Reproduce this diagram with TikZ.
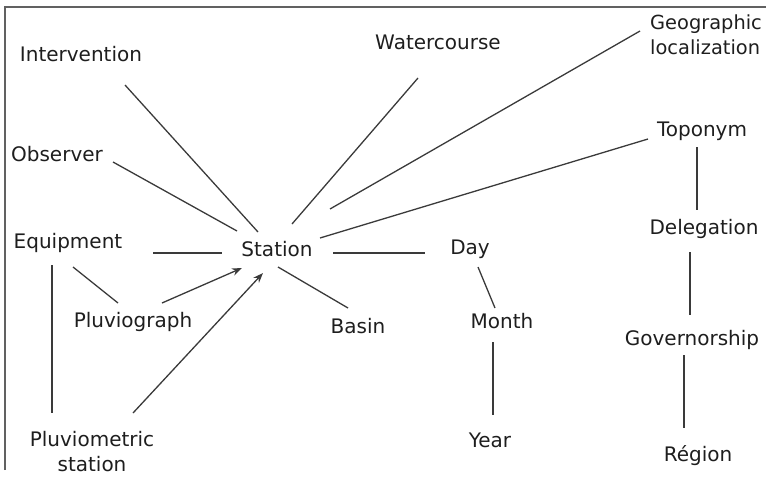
\documentclass[tikz,border=0pt]{standalone}
\usepackage{fontspec}
\setmainfont{DejaVu Sans}
\usetikzlibrary{arrows.meta}
\definecolor{txt}{HTML}{1E1E1E}
\definecolor{ln}{HTML}{3A3A3A}
\tikzset{
  lbl/.style={inner sep=0pt, anchor=center, text=txt, font=\fontsize{20}{25}\selectfont},
  conn/.style={draw=ln, line width=1.3pt},
  arr/.style={conn, -{Stealth[length=10pt,width=7.5pt]}},
  frameline/.style={draw=ln!80, line width=1.4pt}
}
\newcommand{\cn}[5][conn]{\draw[#1] ([shift={#3}]#2.center) -- ([shift={#5}]#4.center);}
\begin{document}
\begin{tikzpicture}[x=1pt,y=-1pt]
\useasboundingbox (0,0) rectangle (766,477);
\coordinate (fa) at (5,470);
\coordinate (fb) at (5,7);
\coordinate (fc) at (766,7);
\draw[frameline] (fa) -- (fb) -- (fc);

\node[lbl] (interv) at (81,54) {Intervention};
\node[lbl] (water) at (438,42) {Watercourse};
\node[lbl, anchor=west, align=left, font=\fontsize{19.4}{25}\selectfont] (geo) at (650,35) {Geographic\\localization};
\node[lbl] (obs) at (57,154) {Observer};
\node[lbl] (topo) at (702,131) {Toponym};
\node[lbl] (equip) at (68,243) {Equipment};
\node[lbl] (station) at (277,249) {Station};
\node[lbl] (deleg) at (704,229) {Delegation};
\node[lbl] (plugr) at (133,322) {Pluviograph};
\node[lbl] (basin) at (358,326) {Basin};
\node[lbl] (day) at (470,249) {Day};
\node[lbl] (month) at (502,321) {Month};
\node[lbl] (gov) at (692,340) {Governorship};
\node[lbl, align=center] (pluvm) at (92,452) {Pluviometric\\station};
\node[lbl] (year) at (490,440) {Year};
\node[lbl] (region) at (698,456) {Région};

\cn{interv}{(44,31)}{station}{(-19,-17)}
\cn{obs}{(56,8)}{station}{(-40,-18)}
\cn{water}{(-20,36)}{station}{(15,-25)}
\draw[conn] ([shift={(-10,-4)}]geo.west) -- ([shift={(53,-40)}]station.center);
\cn{topo}{(-54,8)}{station}{(43,-11)}
\cn{topo}{(-5,16)}{deleg}{(-7,-19)}
\cn{equip}{(85,10)}{station}{(-55,4)}
\cn{station}{(56,4)}{day}{(-45,4)}
\cn{station}{(1,18)}{basin}{(-10,-18)}
\cn{equip}{(5,24)}{plugr}{(-15,-19)}
\cn{equip}{(-16,22)}{pluvm}{(-40,-39)}
\cn[arr]{plugr}{(29,-19)}{station}{(-35,19)}
\cn[arr]{pluvm}{(41,-39)}{station}{(-14,24)}
\cn{day}{(8,18)}{month}{(-7,-13)}
\cn{month}{(-9,21)}{year}{(3,-25)}
\cn{deleg}{(-14,23)}{gov}{(-2,-25)}
\cn{gov}{(-8,15)}{region}{(-14,-28)}
\end{tikzpicture}
\end{document}
